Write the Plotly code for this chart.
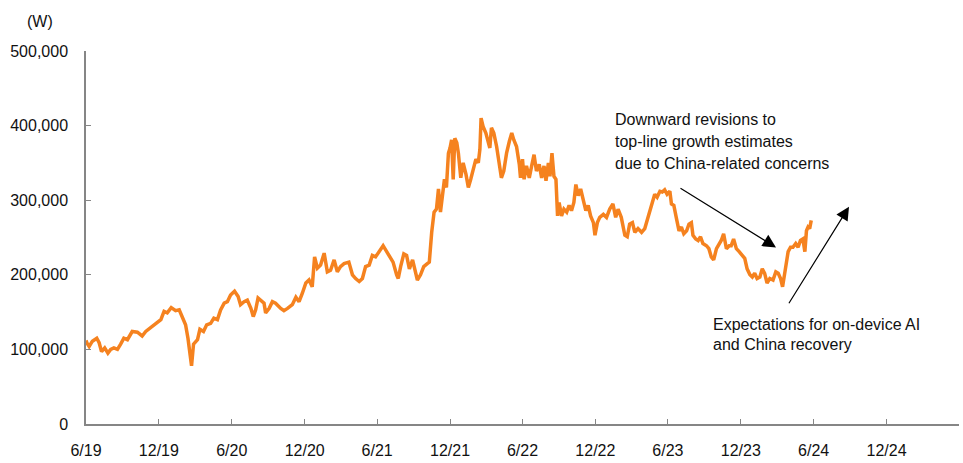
import pandas as pd
import plotly.graph_objects as go

# ---- data ----
start_date = "2019-06-01"
day_offsets = [
    0, 2, 8, 16, 27, 33, 39, 47, 55, 62, 70, 79, 87, 95, 104, 116, 129, 141, 150, 162, 175, 188, 196, 204,
    214, 225, 234, 242, 250, 256, 261, 265, 270, 280, 286, 295, 303, 313, 321, 330, 338, 347, 355, 363,
    373, 382, 388, 397, 405, 414, 420, 426, 432, 439, 447, 451, 460, 468, 476, 489, 497, 506, 518, 527,
    535, 543, 552, 560, 568, 574, 581, 589, 598, 606, 614, 623, 631, 639, 648, 660, 669, 677, 686, 694,
    702, 711, 719, 727, 736,
    746, 755, 763, 771, 780, 784, 790, 798, 805, 812, 820, 826, 832, 840, 848, 857, 862, 868, 874, 880,
    885, 890, 895, 900, 905, 910, 914, 918, 922, 926, 931, 935, 941, 947, 954, 960, 966, 972, 979, 985,
    989, 992, 997, 1004, 1010, 1014, 1018, 1024, 1031, 1038, 1043, 1049, 1056, 1063, 1069, 1074, 1081,
    1088, 1091, 1096, 1100, 1106, 1113, 1119, 1125, 1131, 1138, 1144, 1150, 1155, 1161, 1165, 1170,
    1175, 1180, 1184, 1188, 1194, 1200, 1207, 1213, 1219, 1225, 1230, 1236, 1242, 1249, 1255, 1261,
    1267, 1274, 1278, 1284, 1290, 1299, 1307,
    1315, 1323, 1330, 1336, 1344, 1353, 1359, 1365, 1372, 1378, 1386, 1395, 1403, 1409, 1415, 1422,
    1428, 1434, 1441, 1447, 1453, 1459, 1466, 1470, 1476, 1482, 1489, 1495, 1501, 1508, 1514, 1520,
    1524, 1531, 1537, 1543, 1549, 1558, 1564, 1570, 1576, 1583, 1590, 1595, 1601, 1608, 1615, 1620,
    1626, 1633, 1640, 1648, 1654, 1660, 1667, 1673, 1679, 1685, 1692, 1698, 1704, 1710, 1717, 1725,
    1732, 1738, 1744, 1749, 1752, 1757, 1763, 1769, 1775, 1782, 1788, 1794, 1800, 1805, 1809, 1813,
    1817, 1821,
]
price_thousands = [
    112, 109, 104, 111, 115, 109, 97, 102, 95, 100, 102, 100, 107, 115, 113, 124, 123, 118, 124, 129, 135, 140, 151, 149,
    156, 152, 153, 142, 133, 115, 93, 78, 107, 113, 127, 124, 133, 135, 142, 140, 153, 162, 164, 173,
    178, 171, 160, 164, 166, 155, 144, 153, 169, 166, 162, 149, 155, 164, 162, 155, 152, 155, 160, 170,
    164, 175, 189, 193, 184, 224, 209, 213, 229, 204, 206, 220, 204, 211, 215, 217, 200, 195, 191, 195,
    211, 213, 226, 224, 231,
    239, 231, 224, 217, 200, 195, 211, 228, 226, 208, 220, 204, 193, 200, 211, 215, 217, 257, 284, 288,
    315, 284, 306, 328, 317, 363, 370, 381, 328, 383, 377, 363, 330, 350, 335, 317, 328, 341, 355, 350,
    368, 410, 399, 390, 379, 370, 397, 390, 372, 346, 330, 339, 363, 379, 390, 381, 372,
    348, 330, 355, 328, 346, 330, 346, 361, 339, 348, 330, 346, 326, 350, 332, 363,
    332, 328, 279, 297, 279, 288, 284, 293, 286, 297, 321, 306, 315, 297, 286, 293,
    279, 270, 253, 270, 277, 281, 277,
    288, 295, 277, 288, 277, 253, 251, 268, 270, 257, 262, 257, 262, 273, 286, 299,
    308, 304, 312, 311, 314, 308, 312, 295, 293, 277, 259, 264, 255, 259, 268, 270,
    253, 248, 246, 251, 242, 239, 235, 224, 220, 235, 242, 246, 255, 235, 239, 239,
    248, 235, 231, 226, 222, 208, 200, 197, 202, 195, 197, 208, 202, 189, 195, 193,
    204, 202, 195, 184, 193, 213, 231, 237, 237, 242, 237, 246, 248, 231, 259, 264,
    262, 273,
]
tick_dates = ["2019-06-01", "2019-12-01", "2020-06-01", "2020-12-01", "2021-06-01", "2021-12-01",
              "2022-06-01", "2022-12-01", "2023-06-01", "2023-12-01", "2024-06-01", "2024-12-01"]
tick_labels = ["6/19", "12/19", "6/20", "12/20", "6/21", "12/21",
               "6/22", "12/22", "6/23", "12/23", "6/24", "12/24"]
y_ticks = [0, 100000, 200000, 300000, 400000, 500000]

dates = pd.Timestamp(start_date) + pd.to_timedelta(day_offsets, unit="D")
prices = [v * 1000 for v in price_thousands]

W, H = 963, 463
L, R, T, B = 86, 4, 51, 36
pw, ph = W - L - R, H - T - B

def px(xp):
    return (xp - L) / pw

def py(yp):
    return (H - B - yp) / ph

FONT = "Liberation Sans, Arial, sans-serif"
AX = "#868686"

fig = go.Figure()
fig.add_trace(go.Scatter(x=dates, y=prices, mode="lines",
                         line=dict(color="#F5821F", width=3.5), hoverinfo="skip"))

fig.update_layout(
    width=W, height=H,
    margin=dict(l=L, r=R, t=T, b=B, pad=0),
    paper_bgcolor="white", plot_bgcolor="white",
    showlegend=False,
    font=dict(family=FONT, size=16, color="#111111"),
)
fig.update_xaxes(
    type="date", range=["2019-06-01", "2025-06-01"],
    tickmode="array", tickvals=tick_dates, ticktext=tick_labels,
    ticks="inside", ticklen=5, tickcolor=AX, tickwidth=1,
    showline=True, linecolor=AX, linewidth=1.5,
    showgrid=False, zeroline=False, ticklabelstandoff=11,
    tickfont=dict(family=FONT, size=16, color="#111111"),
)
fig.update_yaxes(
    range=[0, 500000], tickmode="array", tickvals=y_ticks, tickformat=",d",
    ticks="inside", ticklen=5, tickcolor=AX, tickwidth=1,
    showline=True, linecolor=AX, linewidth=1.5,
    showgrid=False, zeroline=False, ticklabelstandoff=13,
    tickfont=dict(family=FONT, size=16, color="#111111"),
)

anns = []
anns.append(dict(xref="paper", yref="paper", x=px(40), y=py(21), text="(W)",
                 showarrow=False, xanchor="center", yanchor="middle"))
for i, t in enumerate(["Downward revisions to", "top-line growth estimates",
                       "due to China-related concerns"]):
    anns.append(dict(xref="paper", yref="paper", x=px(613), y=py(120 + 22 * i), text=t,
                     showarrow=False, xanchor="left", yanchor="middle"))
for i, t in enumerate(["Expectations for on-device AI", "and China recovery"]):
    anns.append(dict(xref="paper", yref="paper", x=px(711), y=py(327 + 20 * i), text=t,
                     showarrow=False, xanchor="left", yanchor="middle"))
# arrows
anns.append(dict(xref="paper", yref="paper", x=px(776), y=py(249), ax=-97, ay=-60, text="",
                 showarrow=True, arrowhead=2, arrowsize=2.2, arrowwidth=1.2, arrowcolor="black"))
anns.append(dict(xref="paper", yref="paper", x=px(849), y=py(208), ax=-61, ay=98, text="",
                 showarrow=True, arrowhead=2, arrowsize=2.2, arrowwidth=1.2, arrowcolor="black"))
fig.update_layout(annotations=anns)

fig.write_html("out.html")
